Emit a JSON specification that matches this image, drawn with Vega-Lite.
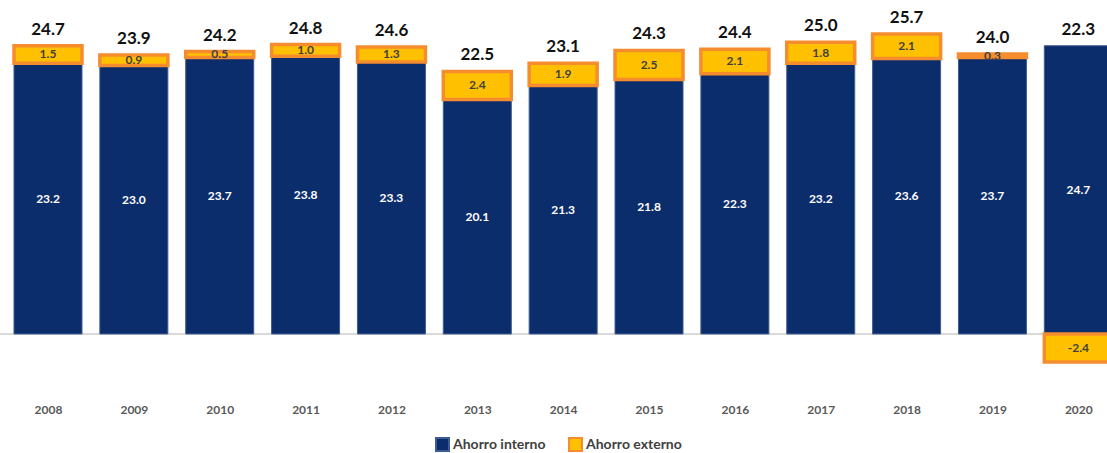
{
  "$schema": "https://vega.github.io/schema/vega-lite/v6.json",
  "width": 1107,
  "height": 393,
  "autosize": {"type": "none"},
  "padding": {"left": 0, "top": 0, "right": 0, "bottom": 60},
  "config": {
    "view": {"stroke": null},
    "font": "Lato",
    "locale": {"number": {"decimal": ".", "thousands": ",", "grouping": [3], "currency": ["$", ""], "minus": "-"}}
  },
  "data": {
    "values": [
      {"year": 2008, "type": "Ahorro interno", "value": 23.2, "total": 24.7},
      {"year": 2008, "type": "Ahorro externo", "value": 1.5, "total": 24.7},
      {"year": 2009, "type": "Ahorro interno", "value": 23.0, "total": 23.9},
      {"year": 2009, "type": "Ahorro externo", "value": 0.9, "total": 23.9},
      {"year": 2010, "type": "Ahorro interno", "value": 23.7, "total": 24.2},
      {"year": 2010, "type": "Ahorro externo", "value": 0.5, "total": 24.2},
      {"year": 2011, "type": "Ahorro interno", "value": 23.8, "total": 24.8},
      {"year": 2011, "type": "Ahorro externo", "value": 1.0, "total": 24.8},
      {"year": 2012, "type": "Ahorro interno", "value": 23.3, "total": 24.6},
      {"year": 2012, "type": "Ahorro externo", "value": 1.3, "total": 24.6},
      {"year": 2013, "type": "Ahorro interno", "value": 20.1, "total": 22.5},
      {"year": 2013, "type": "Ahorro externo", "value": 2.4, "total": 22.5},
      {"year": 2014, "type": "Ahorro interno", "value": 21.3, "total": 23.1},
      {"year": 2014, "type": "Ahorro externo", "value": 1.9, "total": 23.1},
      {"year": 2015, "type": "Ahorro interno", "value": 21.8, "total": 24.3},
      {"year": 2015, "type": "Ahorro externo", "value": 2.5, "total": 24.3},
      {"year": 2016, "type": "Ahorro interno", "value": 22.3, "total": 24.4},
      {"year": 2016, "type": "Ahorro externo", "value": 2.1, "total": 24.4},
      {"year": 2017, "type": "Ahorro interno", "value": 23.2, "total": 25.0},
      {"year": 2017, "type": "Ahorro externo", "value": 1.8, "total": 25.0},
      {"year": 2018, "type": "Ahorro interno", "value": 23.6, "total": 25.7},
      {"year": 2018, "type": "Ahorro externo", "value": 2.1, "total": 25.7},
      {"year": 2019, "type": "Ahorro interno", "value": 23.7, "total": 24.0},
      {"year": 2019, "type": "Ahorro externo", "value": 0.3, "total": 24.0},
      {"year": 2020, "type": "Ahorro interno", "value": 24.7, "total": 22.3},
      {"year": 2020, "type": "Ahorro externo", "value": -2.4, "total": 22.3}
    ]
  },
  "transform": [
    {"stack": "value", "groupby": ["year"], "sort": [{"field": "type", "order": "descending"}], "as": ["v0", "v1"]}
  ],
  "layer": [
    {
      "mark": {"type": "rule", "color": "#D9D9D9", "strokeWidth": 1.5},
      "encoding": {
        "y": {"datum": 0, "type": "quantitative", "scale": {"domain": [-5.06, 28.62], "nice": false, "zero": false}, "axis": null}
      }
    },
    {
      "mark": {"type": "bar", "size": 68, "clip": true},
      "encoding": {
        "x": {"field": "year", "type": "quantitative", "scale": {"domain": [2007.441, 2020.334], "nice": false, "zero": false, "padding": 0}, "axis": {"title": null, "values": [2008, 2009, 2010, 2011, 2012, 2013, 2014, 2015, 2016, 2017, 2018, 2019, 2020], "format": "d", "grid": false, "domain": false, "ticks": false, "tickSize": 0, "labelPadding": 11, "labelFontSize": 12, "labelFontWeight": "bold", "labelColor": "#595959", "labelFlush": false, "labelFont": "Lato"}},
        "y": {"field": "v1", "type": "quantitative", "scale": {"domain": [-5.06, 28.62], "nice": false, "zero": false}, "axis": null},
        "y2": {"field": "v0"},
        "fill": {"field": "type", "type": "nominal", "scale": {"domain": ["Ahorro interno", "Ahorro externo"], "range": ["#0C2D6B", "#FFC000"]}, "legend": {"title": null, "orient": "none", "legendX": 435, "legendY": 437, "direction": "horizontal", "symbolType": "square", "symbolSize": 169, "labelFontSize": 14, "labelFont": "Lato", "labelFontWeight": "bold", "labelColor": "#404040", "labelOffset": 3, "columnPadding": 19, "symbolStrokeWidth": 2}},
        "stroke": {"field": "type", "type": "nominal", "scale": {"domain": ["Ahorro interno", "Ahorro externo"], "range": ["#3F5B93", "#F58D2E"]}, "legend": {"title": null, "orient": "none", "legendX": 435, "legendY": 437, "direction": "horizontal", "symbolType": "square", "symbolSize": 169, "labelFontSize": 14, "labelFont": "Lato", "labelFontWeight": "bold", "labelColor": "#404040", "labelOffset": 3, "columnPadding": 19, "symbolStrokeWidth": 2}},
        "strokeWidth": {"condition": {"test": "datum.type === 'Ahorro externo'", "value": 3.5}, "value": 1}
      }
    },
    {
      "transform": [{"fold": ["v0", "v1"], "as": ["edge", "pos"]}],
      "mark": {"type": "text", "fontWeight": "bold", "fontSize": 12, "baseline": "middle", "font": "Lato"},
      "encoding": {
        "x": {"field": "year", "type": "quantitative", "scale": {"domain": [2007.441, 2020.334], "nice": false, "zero": false, "padding": 0}, "axis": {"title": null, "values": [2008, 2009, 2010, 2011, 2012, 2013, 2014, 2015, 2016, 2017, 2018, 2019, 2020], "format": "d", "grid": false, "domain": false, "ticks": false, "tickSize": 0, "labelPadding": 11, "labelFontSize": 12, "labelFontWeight": "bold", "labelColor": "#595959", "labelFlush": false, "labelFont": "Lato"}},
        "y": {"field": "pos", "type": "quantitative", "aggregate": "mean", "scale": {"domain": [-5.06, 28.62], "nice": false, "zero": false}, "axis": null},
        "text": {"field": "value", "type": "quantitative", "format": ".1f"},
        "detail": {"field": "type", "type": "nominal"},
        "color": {"condition": {"test": "datum.type === 'Ahorro interno'", "value": "#FFFFFF"}, "value": "#404040"}
      }
    },
    {
      "mark": {"type": "text", "fontWeight": "bold", "fontSize": 17, "baseline": "alphabetic", "dy": -11, "color": "#111111", "font": "Lato"},
      "encoding": {
        "x": {"field": "year", "type": "quantitative", "scale": {"domain": [2007.441, 2020.334], "nice": false, "zero": false, "padding": 0}, "axis": {"title": null, "values": [2008, 2009, 2010, 2011, 2012, 2013, 2014, 2015, 2016, 2017, 2018, 2019, 2020], "format": "d", "grid": false, "domain": false, "ticks": false, "tickSize": 0, "labelPadding": 11, "labelFontSize": 12, "labelFontWeight": "bold", "labelColor": "#595959", "labelFlush": false, "labelFont": "Lato"}},
        "y": {"field": "v1", "type": "quantitative", "aggregate": "max", "scale": {"domain": [-5.06, 28.62], "nice": false, "zero": false}, "axis": null},
        "text": {"field": "total", "type": "quantitative", "format": ".1f"}
      }
    }
  ]
}
